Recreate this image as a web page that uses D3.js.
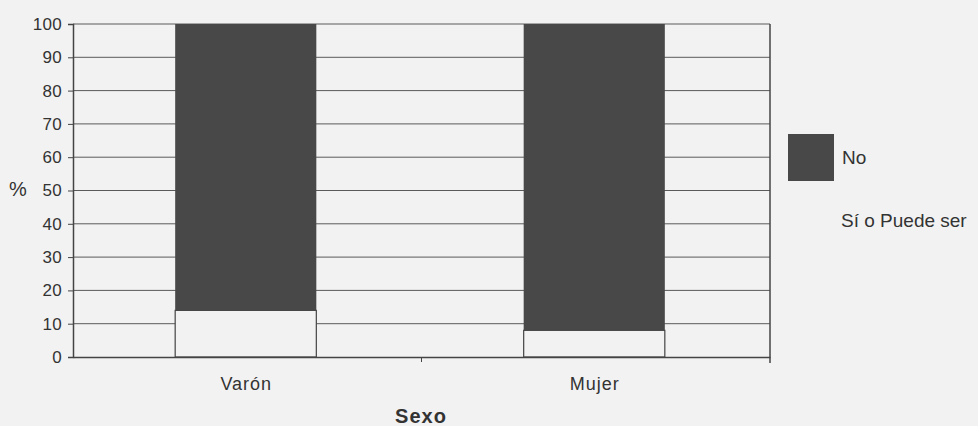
<!DOCTYPE html>
<html><head><meta charset="utf-8">
<script src="https://cdn.jsdelivr.net/npm/d3@7"></script>
<style>
html,body{margin:0;padding:0;background:#f2f2f2;}
svg{display:block;}
text{font-family:"Liberation Sans",Arial,sans-serif;fill:#333;}
</style></head>
<body>
<svg id="c" width="978" height="426"></svg>
<script>
const categories = ["Varón", "Mujer"];
const siValues = [14, 8];
const noValues = [86, 92];
const seriesNames = ["No", "Sí o Puede ser"];
const yTicks = [0,10,20,30,40,50,60,70,80,90,100];

const svg = d3.select("#c");
const m = {left:73, right:770, top:24, bottom:357};
const x = d3.scaleBand().domain(categories).range([m.left, m.right]).padding(0);
const y = d3.scaleLinear().domain([0,100]).range([m.bottom, m.top]);
const barW = x.bandwidth()*0.405;
const dark = "#484848", line = "#444";

// gridlines
svg.append("g").selectAll("line").data(yTicks.filter(d=>d>0)).join("line")
  .attr("x1", m.left).attr("x2", m.right)
  .attr("y1", d=>y(d)).attr("y2", d=>y(d))
  .attr("stroke", "#5a5a5a").attr("stroke-width", 1);
// right border
svg.append("line").attr("x1", m.right).attr("x2", m.right)
  .attr("y1", m.top).attr("y2", m.bottom+6).attr("stroke", line).attr("stroke-width",1.5);

// bars
const g = svg.append("g");
categories.forEach((c,i)=>{
  const cx = x(c) + x.bandwidth()/2 - 1.5;
  g.append("rect").attr("x", cx-barW/2).attr("width", barW)
    .attr("y", y(siValues[i])).attr("height", y(0)-y(siValues[i]))
    .attr("fill", "#f2f2f2").attr("stroke", "#444").attr("stroke-width", 1.2);
  g.append("rect").attr("x", cx-barW/2).attr("width", barW)
    .attr("y", y(siValues[i]+noValues[i])).attr("height", y(siValues[i])-y(siValues[i]+noValues[i]))
    .attr("fill", dark);
});

// y axis
const ya = svg.append("g").attr("transform", `translate(${m.left},0)`)
  .call(d3.axisLeft(y).tickValues(yTicks).tickSize(5).tickPadding(6));
ya.select(".domain").attr("stroke", line).attr("stroke-width", 1.5);
ya.selectAll(".tick line").attr("stroke", line);
ya.selectAll("text").attr("font-size", 17).attr("letter-spacing", 0.3).style("fill","#333");

// x axis
const xa = svg.append("g").attr("transform", `translate(0,${m.bottom})`)
  .call(d3.axisBottom(x).tickSize(0).tickPadding(20));
xa.select(".domain").attr("stroke", line).attr("stroke-width", 1.5);
xa.selectAll("text").attr("font-size", 18).attr("letter-spacing", 1).style("fill","#333").attr("dx", -1);
svg.append("line").attr("x1", (m.left+m.right)/2).attr("x2", (m.left+m.right)/2)
  .attr("y1", m.bottom).attr("y2", m.bottom+5).attr("stroke", line);

// titles
svg.append("text").attr("x", 421).attr("y", 423).attr("text-anchor","middle")
  .attr("font-size", 20).attr("font-weight","bold").attr("letter-spacing", 1).text("Sexo");
svg.append("text").attr("x", 9).attr("y", 196).attr("font-size", 20).text("%");

// legend
svg.append("rect").attr("x", 788).attr("y", 134).attr("width", 46).attr("height", 47).attr("fill", dark);
svg.append("text").attr("x", 842).attr("y", 164).attr("font-size", 19).text(seriesNames[0]);
svg.append("text").attr("x", 841).attr("y", 227).attr("font-size", 19).text(seriesNames[1]);
</script>
</body></html>
